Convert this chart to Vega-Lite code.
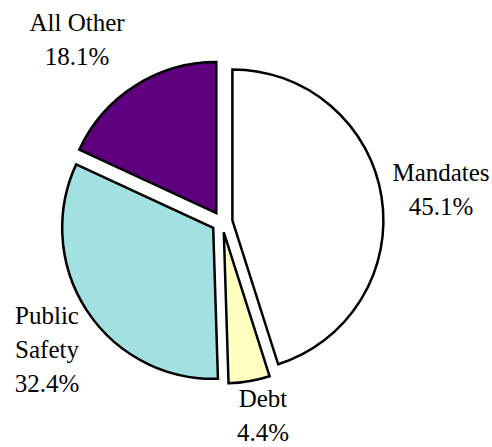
{
  "$schema": "https://vega.github.io/schema/vega-lite/v6.json",
  "width": 444,
  "height": 444,
  "autosize": "none",
  "padding": {"left": 0, "top": 0, "right": 48, "bottom": 3},
  "background": "white",
  "data": {
    "values": [
      {"category": "Mandates", "value": 45.1, "order": 1, "label": ["Mandates", "45.1%"]},
      {"category": "Debt", "value": 4.4, "order": 2, "label": ["Debt", "4.4%"]},
      {"category": "Public Safety", "value": 32.4, "order": 3, "label": ["Public", "Safety", "32.4%"]},
      {"category": "All Other", "value": 18.1, "order": 4, "label": ["All Other", "18.1%"]}
    ]
  },
  "transform": [
    {"stack": "value", "groupby": [], "as": ["v0", "v1"], "sort": [{"field": "order", "order": "ascending"}]}
  ],
  "encoding": {
    "color": {
      "field": "category", "type": "nominal", "legend": null,
      "scale": {"domain": ["Mandates", "Debt", "Public Safety", "All Other"], "range": ["#ffffff", "#ffffc0", "#a3e0e0", "#5f007f"]}
    }
  },
  "layer": [
    {
      "transform": [{"filter": "datum.category === 'Mandates'"}],
      "mark": {"type": "arc", "radius": 151, "stroke": "black", "strokeWidth": 2.5, "xOffset": 10.4, "yOffset": -1.6},
      "encoding": {
        "theta": {"field": "v0", "type": "quantitative", "scale": {"domain": [0, 100]}},
        "theta2": {"field": "v1"}
      }
    },
    {
      "transform": [{"filter": "datum.category === 'Debt'"}],
      "mark": {"type": "arc", "radius": 151, "stroke": "black", "strokeWidth": 2.5, "xOffset": 1.8, "yOffset": 10.3},
      "encoding": {
        "theta": {"field": "v0", "type": "quantitative", "scale": {"domain": [0, 100]}},
        "theta2": {"field": "v1"}
      }
    },
    {
      "transform": [{"filter": "datum.category === 'Public Safety'"}],
      "mark": {"type": "arc", "radius": 151, "stroke": "black", "strokeWidth": 2.5, "xOffset": -8.8, "yOffset": 5.8},
      "encoding": {
        "theta": {"field": "v0", "type": "quantitative", "scale": {"domain": [0, 100]}},
        "theta2": {"field": "v1"}
      }
    },
    {
      "transform": [{"filter": "datum.category === 'All Other'"}],
      "mark": {"type": "arc", "radius": 151, "stroke": "black", "strokeWidth": 2.5, "xOffset": -5.7, "yOffset": -8.9},
      "encoding": {
        "theta": {"field": "v0", "type": "quantitative", "scale": {"domain": [0, 100]}},
        "theta2": {"field": "v1"}
      }
    },
    {
      "mark": {"type": "text", "radius": 224.4, "thetaOffset": -0.066},
      "encoding": {
        "theta": {"field": "value", "type": "quantitative", "stack": true, "scale": {"domain": [0, 100]}},
        "order": {"field": "order"},
        "color": {"value": "black"},
        "text": {"condition": {"test": "datum.category === 'Mandates'", "field": "label"}, "value": ""}
      }
    },
    {
      "mark": {"type": "text", "radius": 181.7, "thetaOffset": -0.058},
      "encoding": {
        "theta": {"field": "value", "type": "quantitative", "stack": true, "scale": {"domain": [0, 100]}},
        "order": {"field": "order"},
        "color": {"value": "black"},
        "text": {"condition": {"test": "datum.category === 'Debt'", "field": "label"}, "value": ""}
      }
    },
    {
      "mark": {"type": "text", "radius": 198.6, "thetaOffset": 0.092},
      "encoding": {
        "theta": {"field": "value", "type": "quantitative", "stack": true, "scale": {"domain": [0, 100]}},
        "order": {"field": "order"},
        "color": {"value": "black"},
        "text": {"condition": {"test": "datum.category === 'Public Safety'", "field": "label"}, "value": ""}
      }
    },
    {
      "mark": {"type": "text", "radius": 246.2, "thetaOffset": -0.061},
      "encoding": {
        "theta": {"field": "value", "type": "quantitative", "stack": true, "scale": {"domain": [0, 100]}},
        "order": {"field": "order"},
        "color": {"value": "black"},
        "text": {"condition": {"test": "datum.category === 'All Other'", "field": "label"}, "value": ""}
      }
    }
  ],
  "config": {
    "view": {"stroke": null},
    "font": "Liberation Serif",
    "text": {"font": "Liberation Serif", "fontSize": 25, "lineHeight": 34, "align": "center", "baseline": "middle"}
  }
}
